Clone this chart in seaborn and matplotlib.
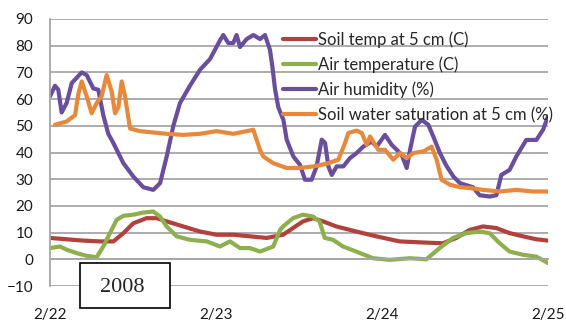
import numpy as np
import pandas as pd
import matplotlib
matplotlib.use("Agg")
import matplotlib.pyplot as plt
import seaborn as sns
from matplotlib.patches import Rectangle

# ---- data (days since 2/22) ----
hum_t = [0.000, 0.030, 0.050, 0.070, 0.100, 0.131, 0.191, 0.221, 0.261, 0.291, 0.321, 0.351, 0.382,
         0.442, 0.502, 0.562, 0.622, 0.663, 0.703, 0.743, 0.783, 0.843, 0.904, 0.964, 1.024, 1.044,
         1.074, 1.104, 1.124, 1.145, 1.185, 1.225, 1.265, 1.295, 1.325, 1.340, 1.355, 1.375, 1.406,
         1.426, 1.466, 1.506, 1.536, 1.576, 1.606, 1.637, 1.657, 1.677, 1.697, 1.727, 1.767, 1.807,
         1.847, 1.887, 1.938, 1.968, 2.018, 2.058, 2.089, 2.119, 2.149, 2.169, 2.199, 2.239, 2.279,
         2.309, 2.349, 2.390, 2.430, 2.470, 2.548, 2.588, 2.648, 2.689, 2.719, 2.769, 2.809, 2.869,
         2.930, 2.970, 3.000]
hum_v = [61, 65, 63.5, 55, 58.5, 66, 70, 69, 64, 63.5, 54, 47, 43.5,
         36, 31, 27, 26, 28.5, 38.5, 50, 58.5, 65, 71, 75, 82, 84,
         81, 81, 84, 79.5, 82.5, 84, 82.5, 84, 78.5, 72, 64, 57, 52.2,
         44.8, 38.5, 35.4, 29.8, 29.8, 34.8, 44.8, 43.6, 34.8, 31.6, 34.8, 34.8, 37.9,
         39.8, 42.2, 44.1, 42.2, 46.6, 42.9, 41, 39.1, 34.2, 41, 49.7, 52.2, 50.4,
         46, 39.8, 34.8, 31, 28.5, 27, 24, 23.5, 24, 31.6, 33.5, 38.5, 44.7,
         44.7, 48.5, 53.5]

sw_t = [0.030, 0.100, 0.151, 0.171, 0.191, 0.221, 0.251, 0.281, 0.311, 0.341, 0.371, 0.392, 0.412,
        0.432, 0.452, 0.482, 0.542, 0.703, 0.803, 0.904, 1.004, 1.104, 1.225, 1.265, 1.285, 1.345,
        1.426, 1.506, 1.586, 1.667, 1.737, 1.777, 1.797, 1.847, 1.878, 1.908, 1.928, 1.978, 2.018,
        2.068, 2.108, 2.149, 2.189, 2.249, 2.299, 2.329, 2.359, 2.410, 2.470, 2.528, 2.608, 2.709,
        2.809, 2.910, 3.000]
sw_v = [50.4, 51.6, 54, 62, 66.6, 61, 54.7, 58.5, 61, 69, 63, 54.7, 57,
        66.6, 61, 49, 48, 47, 46.6, 47, 48, 47, 48.5, 41, 38.5, 36,
        34.2, 34.2, 34.8, 35.8, 37.3, 43.5, 47.3, 48.2, 47.3, 42.9, 46, 41, 41,
        37.3, 39.8, 37.9, 39.8, 40.4, 42.2, 37.3, 29.8, 27.9, 27, 26.7, 26, 25.4,
        26, 25.4, 25.4]

st_t = [0.000, 0.100, 0.201, 0.301, 0.382, 0.442, 0.502, 0.582, 0.643, 0.703, 0.803, 0.904, 1.004,
        1.104, 1.205, 1.305, 1.404, 1.464, 1.524, 1.584, 1.645, 1.725, 1.845, 1.966, 2.106, 2.247,
        2.367, 2.448, 2.528, 2.608, 2.689, 2.769, 2.849, 2.930, 3.000]
st_v = [8, 7.5, 7, 6.7, 6.7, 9.8, 13.5, 15.4, 15.4, 14.2, 12.3, 10.4, 9.2,
        9.2, 8.6, 8, 9.2, 11.7, 14.2, 15.4, 14.2, 12.3, 10.4, 8.6, 6.7, 6.3,
        6, 8, 11, 12.3, 11.7, 9.8, 8.6, 7.5, 7]

at_t = [0.000, 0.060, 0.100, 0.161, 0.221, 0.281, 0.321, 0.361, 0.402, 0.442, 0.502, 0.562, 0.622,
        0.663, 0.703, 0.763, 0.843, 0.944, 1.024, 1.084, 1.145, 1.205, 1.265, 1.345, 1.386, 1.404,
        1.464, 1.524, 1.584, 1.624, 1.655, 1.705, 1.765, 1.845, 1.946, 2.046, 2.167, 2.267, 2.347,
        2.428, 2.508, 2.588, 2.648, 2.709, 2.769, 2.849, 2.930, 3.000]
at_v = [4.2, 4.8, 3.6, 2.3, 1.3, 0.8, 4.8, 9.8, 14.8, 16.3, 16.7, 17.5, 17.9,
        16, 12.3, 8.6, 7.3, 6.7, 4.8, 6.7, 4.2, 4.2, 2.9, 4.8, 11, 12.3,
        15.4, 16.7, 16, 14.2, 8, 7.3, 4.8, 2.9, 0.4, -0.2, 0.4, 0, 4.2,
        8, 9.8, 10.4, 9.8, 6, 2.9, 1.7, 1, -1.4]

series_names = ["Soil temp at 5 cm (C)", "Air temperature (C)", "Air humidity (%)",
                "Soil water saturation at 5 cm (%)"]
colors = ["#B2413D", "#8DB04D", "#6A4E9E", "#E8883A"]
tick_pos = [0, 1, 2, 3]
tick_labels = ["2/22", "2/23", "2/24", "2/25"]
year_label = "2008"

frames = []
for name, t, v in zip(series_names, [st_t, at_t, hum_t, sw_t], [st_v, at_v, hum_v, sw_v]):
    frames.append(pd.DataFrame({"day": t, "value": v, "series": name}))
df = pd.concat(frames, ignore_index=True)

sns.set_style("white")
plt.rcParams["font.family"] = ["Lato", "DejaVu Sans"]

fig = plt.figure(figsize=(5.66, 3.23), dpi=100)
ax = fig.add_axes([50 / 566, 1 - 286 / 323, 498 / 566, 267 / 323])

sns.lineplot(data=df, x="day", y="value", hue="series", hue_order=series_names,
             palette=colors, linewidth=3.0, ax=ax, sort=False, estimator=None)

grid_c = "#A6A6A6"
ax.set_xlim(0, 3)
ax.set_ylim(-10, 90)
ax.set_yticks(np.arange(-10, 91, 10))
ax.yaxis.grid(True, color=grid_c, linewidth=1.3)
ax.set_axisbelow(True)
for s in ["top", "right"]:
    ax.spines[s].set_visible(False)
ax.spines["left"].set_color(grid_c)
ax.spines["left"].set_linewidth(1.3)
ax.spines["bottom"].set_position(("data", 0))
ax.spines["bottom"].set_color(grid_c)
ax.spines["bottom"].set_linewidth(1.3)
ax.set_xticks(tick_pos)
ax.tick_params(axis="x", direction="out", length=5, width=1.3, color=grid_c, labelbottom=False)
ax.tick_params(axis="y", direction="out", length=5, width=1.3, color=grid_c,
               labelsize=11, pad=7, labelcolor="#1a1a1a")
ax.set_xlabel("")
ax.set_ylabel("")

sec = ax.secondary_xaxis("bottom")
sec.set_xticks(tick_pos)
sec.set_xticklabels(tick_labels)
sec.tick_params(length=0, labelsize=11, pad=15.5, labelcolor="#1a1a1a")
sec.spines["bottom"].set_visible(False)

handles, labels = ax.get_legend_handles_labels()
leg = ax.legend(handles, labels, loc="upper left", bbox_to_anchor=(0.468, 0.954),
                frameon=False, fontsize=12, handlelength=2.0, handletextpad=0.1,
                labelspacing=0.52, borderpad=0, borderaxespad=0)
for line in leg.get_lines():
    line.set_linewidth(3.0)

rect = Rectangle((80 / 566, 1 - 308 / 323), 90 / 566, 45 / 323, transform=fig.transFigure,
                 facecolor="white", edgecolor="black", linewidth=1.2, zorder=10)
fig.add_artist(rect)
fig.text(122 / 566, 1 - 288 / 323, year_label, ha="center", va="center", fontsize=16,
         family=["Liberation Serif", "DejaVu Serif"], zorder=11)

fig.savefig("out.png", dpi=100)
